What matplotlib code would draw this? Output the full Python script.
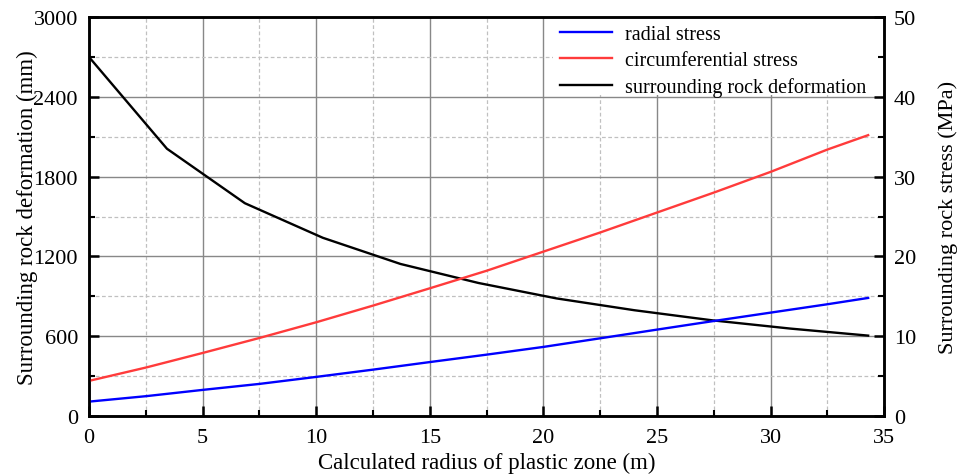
import matplotlib
matplotlib.use("Agg")
import matplotlib.pyplot as plt
from matplotlib.ticker import MultipleLocator
from matplotlib.patches import Rectangle

plt.rcParams['font.family'] = ['Liberation Serif', 'DejaVu Serif']

# surrounding rock deformation (mm), piecewise at calculation points
radius_def = [0, 3.43, 6.86, 10.29, 13.71, 17.14, 20.57, 24.0, 27.43, 30.86, 34.29]
deformation = [2700, 2010, 1600, 1340, 1143, 1000, 884, 795, 719, 657, 604]

# stresses (MPa), smooth curves
radius_stress = [0, 2.5, 5, 7.5, 10, 12.5, 15, 17.5, 20, 22.5, 25, 27.5, 30, 32.5, 34.29]
radial_stress = [1.79, 2.47, 3.26, 4.01, 4.89, 5.8, 6.75, 7.68, 8.65, 9.73, 10.82, 11.9, 12.95, 14.0, 14.79]
circ_stress = [4.39, 6.06, 7.89, 9.77, 11.74, 13.83, 16.0, 18.2, 20.6, 23.0, 25.5, 28.0, 30.6, 33.4, 35.2]

fig = plt.figure(figsize=(9.57, 4.77), dpi=100)
ax1 = fig.add_axes([0.093, 0.126, 0.831, 0.836])
ax2 = ax1.twinx()

l3, = ax1.plot(radius_def, deformation, color='black', lw=1.7, zorder=2)
l1, = ax2.plot(radius_stress, radial_stress, color='#0000ff', lw=1.7)
l2, = ax2.plot(radius_stress, circ_stress, color='#ff3b3b', lw=1.7)

ax1.set_xlim(0, 35)
ax1.set_ylim(0, 3000)
ax2.set_ylim(0, 50)
ax1.xaxis.set_major_locator(MultipleLocator(5))
ax1.xaxis.set_minor_locator(MultipleLocator(2.5))
ax1.yaxis.set_major_locator(MultipleLocator(600))
ax1.yaxis.set_minor_locator(MultipleLocator(300))
ax2.yaxis.set_major_locator(MultipleLocator(10))
ax2.yaxis.set_minor_locator(MultipleLocator(5))

ax1.grid(which='major', color='#888888', lw=1.0, ls='-')
ax1.grid(which='minor', color='#c0c0c0', lw=0.9, ls=(0, (3, 2)))
ax1.set_axisbelow(True)

# white background behind the legend (covers grid only)
ax1.add_patch(Rectangle((0.584, 0.805), 0.416, 0.195, transform=ax1.transAxes,
                        facecolor='white', edgecolor='none', zorder=1))

for ax in (ax1, ax2):
    for s in ax.spines.values():
        s.set_linewidth(1.8)
        s.set_zorder(3)
    ax.tick_params(which='major', direction='in', length=7, width=1.8, labelsize=16)
    ax.tick_params(which='minor', direction='in', length=4, width=1.5)
ax1.tick_params(axis='x', which='both', top=False)
ax1.tick_params(axis='y', which='both', right=False)
ax1.tick_params(axis='x', pad=9)
ax1.tick_params(axis='y', pad=8)
ax2.tick_params(axis='y', pad=7)

ax1.set_xlabel('Calculated radius of plastic zone (m)', fontsize=16.5, labelpad=3)
ax1.set_ylabel('Surrounding rock deformation (mm)', fontsize=16.5, labelpad=-3)
ax2.set_ylabel('Surrounding rock stress (MPa)', fontsize=16, labelpad=16)

leg = ax2.legend([l1, l2, l3],
                 ['radial stress', 'circumferential stress', 'surrounding rock deformation'],
                 loc='upper right', bbox_to_anchor=(0.9875, 1.0), frameon=False, fontsize=14.5,
                 handlelength=2.6, borderaxespad=0.0, borderpad=0.4,
                 labelspacing=0.35, handletextpad=0.65)

fig.savefig('out.png', dpi=100)
